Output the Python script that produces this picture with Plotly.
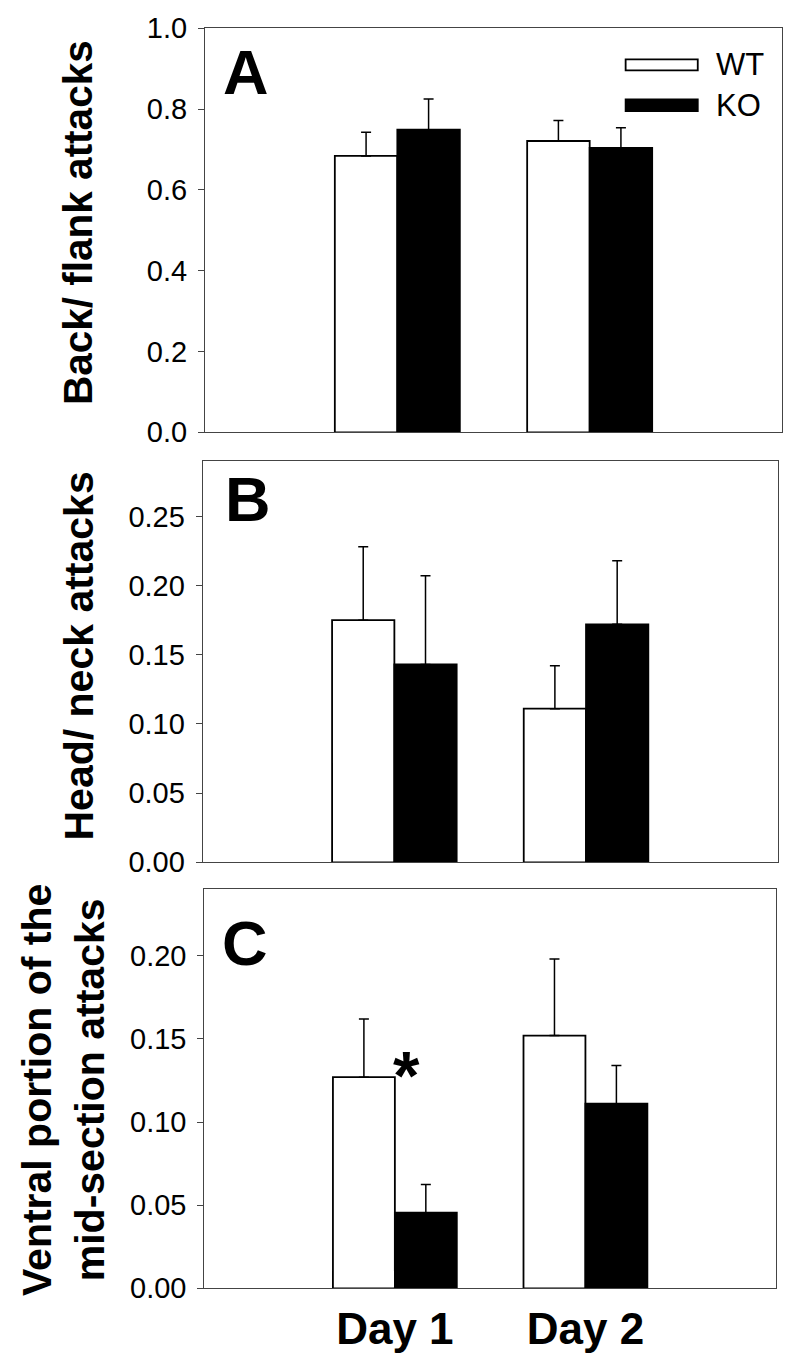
import plotly.graph_objects as go

# ---------------- data ----------------
days = ["Day 1", "Day 2"]
groups = ["WT", "KO"]

back_wt = [0.684, 0.721]
back_wt_err = [0.059, 0.051]
back_ko = [0.749, 0.704]
back_ko_err = [0.076, 0.050]

head_wt = [0.175, 0.111]
head_wt_err = [0.053, 0.031]
head_ko = [0.143, 0.172]
head_ko_err = [0.064, 0.046]

ventral_wt = [0.127, 0.152]
ventral_wt_err = [0.035, 0.046]
ventral_ko = [0.0455, 0.111]
ventral_ko_err = [0.017, 0.023]

panel_letters = ["A", "B", "C"]
y_titles = ["Back/ flank attacks", "Head/ neck attacks",
            "Ventral portion of the<br>mid-section attacks"]
y_ranges = [[0, 1.0], [0, 0.29], [0, 0.24]]
y_ticks = [[0.0, 0.2, 0.4, 0.6, 0.8, 1.0],
           [0.00, 0.05, 0.10, 0.15, 0.20, 0.25],
           [0.00, 0.05, 0.10, 0.15, 0.20]]
y_tickformats = [".1f", ".2f", ".2f"]
significant = [("Day 1", "*")]  # panel C

FONT = "Liberation Sans, Arial, sans-serif"
OFF = 8                      # default page body margin
W, H = 800 - 2 * OFF, 1370 - 2 * OFF

# panel pixel boxes in page coordinates (left, right, top, bottom)
boxes = [(205, 782, 28.3, 432.3),
         (202.7, 777.7, 461, 862.3),
         (204.3, 776, 889.3, 1288.3)]


def px(v):
    return (v - OFF) / W


def py(v):
    return 1 - (v - OFF) / H


panels = [
    (back_wt, back_wt_err, back_ko, back_ko_err),
    (head_wt, head_wt_err, head_ko, head_ko_err),
    (ventral_wt, ventral_wt_err, ventral_ko, ventral_ko_err),
]

fig = go.Figure()
layout = dict(
    template="none",
    width=W, height=H, margin=dict(l=0, r=0, t=0, b=0, pad=0),
    paper_bgcolor="white", plot_bgcolor="white",
    barmode="group", bargap=0.35, bargroupgap=0.0,
    showlegend=False, font=dict(family=FONT, color="black"),
)
annotations = []
shapes = []

title_x = [78, 78, 63]
title_y = [223, 656.5, 1090]
title_size = [40.5, 41, 41]
letter_pos = [(0.028, 0.892), (0.0345, 0.905), (0.028, 0.865)]

for i, (wt, wte, ko, koe) in enumerate(panels):
    n = "" if i == 0 else str(i + 1)
    xa, ya = "x" + n, "y" + n
    l, r, t, b = boxes[i]
    fig.add_trace(go.Bar(
        x=days, y=wt, name=groups[0], xaxis=xa, yaxis=ya,
        marker=dict(color="white", line=dict(color="black", width=1.8)),
        error_y=dict(type="data", array=wte, arrayminus=[0] * len(wte),
                     symmetric=False, color="black", thickness=1.5, width=5),
    ))
    fig.add_trace(go.Bar(
        x=days, y=ko, name=groups[1], xaxis=xa, yaxis=ya,
        marker=dict(color="black", line=dict(color="black", width=1.8)),
        error_y=dict(type="data", array=koe, arrayminus=[0] * len(koe),
                     symmetric=False, color="black", thickness=1.5, width=5),
    ))
    layout["xaxis" + n] = dict(
        domain=[px(l), px(r)], anchor=ya, type="category",
        categoryorder="array", categoryarray=days, range=[-1, 2],
        automargin=False,
        showline=True, mirror=True, linecolor="#444", linewidth=1,
        ticks="", showgrid=False, zeroline=False,
        showticklabels=(i == 2),
        tickfont=dict(family=FONT, size=44, color="black", weight="bold"),
        ticklabelstandoff=2,
    )
    layout["yaxis" + n] = dict(
        domain=[py(b), py(t)], anchor=xa, range=y_ranges[i],
        automargin=False,
        tickvals=y_ticks[i], tickformat=y_tickformats[i],
        showline=True, mirror=True, linecolor="#444", linewidth=1,
        ticks="outside", ticklen=6, tickcolor="#444", tickwidth=1,
        showgrid=False, zeroline=False,
        tickfont=dict(family=FONT, size=29, color="black"),
        ticklabelstandoff=5,
    )
    # panel letter
    annotations.append(dict(
        text=panel_letters[i], xref=xa + " domain", yref=ya + " domain",
        x=letter_pos[i][0], y=letter_pos[i][1],
        xanchor="left", yanchor="middle", showarrow=False,
        font=dict(family=FONT, size=63, color="black", weight="bold"),
    ))
    # y title
    annotations.append(dict(
        text=y_titles[i], xref="paper", yref="paper",
        x=px(title_x[i]), y=py(title_y[i]), textangle=-90,
        xanchor="center", yanchor="middle", showarrow=False,
        font=dict(family=FONT, size=title_size[i], color="black", weight="bold"),
    ))

# legend (panel A)
for j, (g, fill) in enumerate([("WT", "white"), ("KO", "black")]):
    y0, y1 = [(0.896, 0.923), (0.795, 0.824)][j]
    shapes.append(dict(type="rect", xref="x domain", yref="y domain",
                       x0=0.729, x1=0.854, y0=y0, y1=y1,
                       fillcolor=fill, line=dict(color="black", width=1.8)))
    annotations.append(dict(text=g, xref="x domain", yref="y domain",
                            x=0.882, y=(y0 + y1) / 2, xanchor="left",
                            yanchor="middle", showarrow=False,
                            font=dict(family=FONT, size=31, color="black")))

# significance asterisk (panel C)
for day, mark in significant:
    k = days.index(day)
    annotations.append(dict(text=mark, xref="x3", yref="y3",
                            x=k, y=ventral_wt[k], xshift=12, yshift=2,
                            xanchor="center", yanchor="middle",
                            showarrow=False,
                            font=dict(family=FONT, size=68, color="black",
                                      weight="bold")))

layout["annotations"] = annotations
layout["shapes"] = shapes
fig.update_layout(**layout)
fig.write_html("out.html")
